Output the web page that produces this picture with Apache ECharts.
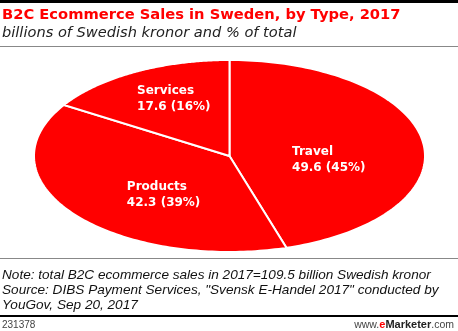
<!DOCTYPE html>
<html>
<head>
<meta charset="utf-8">
<script src="https://cdn.jsdelivr.net/npm/echarts@6/dist/echarts.min.js"></script>
<style>html,body{margin:0;padding:0;background:#fff;}#c{width:458px;height:331px;}</style>
</head>
<body>
<div id="c"></div>
<script>
var categories = ['Travel', 'Products', 'Services'];
var values = [49.6, 42.3, 17.6];
var percents = [45, 39, 16];

var total = values.reduce(function (a, b) { return a + b; }, 0);
var starts = [];
var acc = 0;
values.forEach(function (v) { starts.push(acc / total); acc += v; });

// label anchors (normalized ellipse coordinates; layout only)
var labelPos = [[0.32, -0.045], [-0.525, -0.41], [-0.473, 0.59]];

var chart = echarts.init(document.getElementById('c'), null, {renderer: 'canvas'});

function renderItem(params, api) {
  var i = params.dataIndex;
  var s = starts[i] * Math.PI * 2;
  var e = (starts[i] + values[i] / total) * Math.PI * 2;
  var pts = [api.coord([0, 0])];
  var n = 120;
  for (var k = 0; k <= n; k++) {
    var t = s + (e - s) * k / n;
    pts.push(api.coord([Math.sin(t), Math.cos(t)]));
  }
  var lp = api.coord(labelPos[i]);
  return {
    type: 'group',
    children: [
      {type: 'polygon', shape: {points: pts}, style: {fill: '#ff0000', stroke: '#ffffff', lineWidth: 2, lineJoin: 'miter'}},
      {type: 'text', x: lp[0], y: lp[1], style: {
        text: categories[i] + '\n' + values[i].toFixed(1) + ' (' + percents[i] + '%)',
        fill: '#ffffff', font: 'bold 12px "DejaVu Sans", Verdana, sans-serif',
        align: 'left', verticalAlign: 'middle', lineHeight: 16
      }}
    ]
  };
}

chart.setOption({
  animation: false,
  backgroundColor: '#ffffff',
  grid: {left: 34, right: 33, top: 60, bottom: 79},
  xAxis: {type: 'value', min: -1, max: 1, show: false},
  yAxis: {type: 'value', min: -1, max: 1, show: false},
  series: [{
    type: 'custom',
    renderItem: renderItem,
    data: categories.map(function (c, i) { return [i]; })
  }],
  graphic: [
    {type: 'rect', shape: {x: 0, y: 0, width: 458, height: 3}, style: {fill: '#000'}},
    {type: 'text', x: 2, y: 15, style: {text: 'B2C Ecommerce Sales in Sweden, by Type, 2017', fill: '#ff0000', font: 'bold 14.7px "DejaVu Sans", Verdana, sans-serif', verticalAlign: 'middle'}},
    {type: 'text', x: 2, y: 33, style: {text: 'billions of Swedish kronor and % of total', fill: '#222', font: 'oblique 14.6px "DejaVu Sans", Verdana, sans-serif', verticalAlign: 'middle'}},
    {type: 'rect', shape: {x: 0, y: 46, width: 458, height: 1}, style: {fill: '#888'}},
    {type: 'rect', shape: {x: 0, y: 258, width: 458, height: 1}, style: {fill: '#888'}},
    {type: 'text', x: 2, y: 275, style: {text: 'Note: total B2C ecommerce sales in 2017=109.5 billion Swedish kronor', fill: '#111', font: 'italic 13.6px "Liberation Sans", Arial, sans-serif', verticalAlign: 'middle'}},
    {type: 'text', x: 2, y: 290, style: {text: 'Source: DIBS Payment Services, "Svensk E-Handel 2017" conducted by', fill: '#111', font: 'italic 13.6px "Liberation Sans", Arial, sans-serif', verticalAlign: 'middle'}},
    {type: 'text', x: 2, y: 305, style: {text: 'YouGov, Sep 20, 2017', fill: '#111', font: 'italic 13.6px "Liberation Sans", Arial, sans-serif', verticalAlign: 'middle'}},
    {type: 'rect', shape: {x: 0, y: 315, width: 458, height: 2}, style: {fill: '#000'}},
    {type: 'text', x: 2, y: 325, style: {text: '231378', fill: '#444', font: '10px "Liberation Sans", Arial, sans-serif', verticalAlign: 'middle'}},
    {type: 'text', x: 454, y: 325, style: {
      text: '{a|www.}{b|e}{c|Marketer}{a|.com}', align: 'right', verticalAlign: 'middle',
      rich: {
        a: {fill: '#444', font: '10.5px "Liberation Sans", Arial, sans-serif'},
        b: {fill: '#ff0000', font: 'bold 11px "Liberation Sans", Arial, sans-serif'},
        c: {fill: '#222', font: 'bold 11px "Liberation Sans", Arial, sans-serif'}
      }
    }}
  ]
});
</script>
</body>
</html>
